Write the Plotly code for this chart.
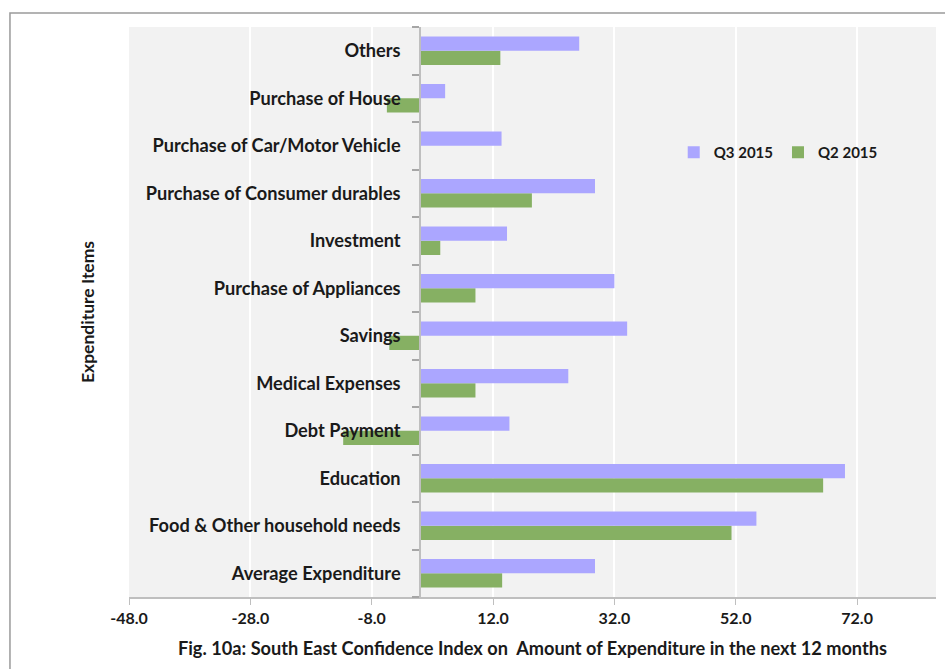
import plotly.graph_objects as go

# Expenditure items, bottom to top
categories = [
    "Average Expenditure",
    "Food & Other household needs",
    "Education",
    "Debt Payment",
    "Medical Expenses",
    "Savings",
    "Purchase of Appliances",
    "Investment",
    "Purchase of Consumer durables",
    "Purchase of Car/Motor Vehicle",
    "Purchase of House",
    "Others",
]
q3_2015 = [28.8, 55.4, 70.0, 14.7, 24.4, 34.1, 32.0, 14.3, 28.8, 13.4, 4.1, 26.2]
q2_2015 = [13.5, 51.3, 66.4, -12.7, 9.1, -5.1, 9.1, 3.3, 18.4, 0.0, -5.5, 13.2]

x_min, x_max = -48, 85
x_ticks = [-48, -28, -8, 12, 32, 52, 72]
x_tick_labels = [f"{v:.1f}" for v in x_ticks]

FONT = "Lato"
TXT = "#1a1a1a"

fig = go.Figure()
fig.add_trace(go.Bar(
    y=categories, x=q2_2015, orientation="h", name="Q2 2015",
    marker=dict(color="#86b063", line=dict(width=0)),
))
fig.add_trace(go.Bar(
    y=categories, x=q3_2015, orientation="h", name="Q3 2015",
    marker=dict(color="#aba6ff", line=dict(width=0)),
))

fig.update_layout(
    width=945, height=669,
    margin=dict(l=129, r=9, t=27, b=72),
    paper_bgcolor="white",
    plot_bgcolor="#f2f2f2",
    barmode="group",
    bargap=0.40,
    bargroupgap=0,
    font=dict(family=FONT, size=17, color=TXT),
    legend=dict(
        orientation="h", traceorder="reversed",
        x=0.675, y=0.78, xanchor="left", yanchor="middle",
        bgcolor="rgba(0,0,0,0)",
        font=dict(family=FONT, size=15, color=TXT, weight="bold"),
        itemwidth=30,
    ),
    xaxis=dict(
        range=[x_min, x_max],
        tickvals=x_ticks,
        ticktext=x_tick_labels,
        tickfont=dict(family=FONT, size=16, color=TXT, weight="bold"),
        showgrid=True, gridcolor="white", gridwidth=1.5,
        zeroline=True, zerolinecolor="#bfbfbf", zerolinewidth=2,
        showline=True, linecolor="#bfbfbf", linewidth=1.5,
        ticks="outside", ticklen=6, tickcolor="#bfbfbf",
        title=dict(
            text="Fig. 10a: South East Confidence Index on\u00a0 Amount of Expenditure in the next 12 months",
            font=dict(family=FONT, size=18.2, color=TXT, weight="bold"),
            standoff=16,
        ),
        fixedrange=True,
    ),
    yaxis=dict(
        anchor="free",
        position=(0 - x_min) / (x_max - x_min),
        showgrid=False,
        showline=True, linecolor="#bfbfbf", linewidth=2,
        ticks="outside", ticklen=7, tickcolor="#a6a6a6", tickwidth=1.5,
        tickson="boundaries",
        ticklabelstandoff=15,
        tickfont=dict(family=FONT, size=18.2, color=TXT, weight="bold"),
        fixedrange=True,
    ),
    shapes=[
        dict(type="rect", xref="paper", yref="paper",
             x0=-0.1475, x1=1.02, y0=-0.2, y1=1.0246,
             line=dict(color="#9a9a9a", width=1.5), layer="below"),
    ],
    annotations=[
        dict(text="Expenditure Items", xref="paper", yref="paper",
             x=-0.052, y=0.5, textangle=-90, showarrow=False,
             xanchor="center", yanchor="middle",
             font=dict(family=FONT, size=17.5, color=TXT, weight="bold")),
    ],
)

fig.write_html("out.html")
